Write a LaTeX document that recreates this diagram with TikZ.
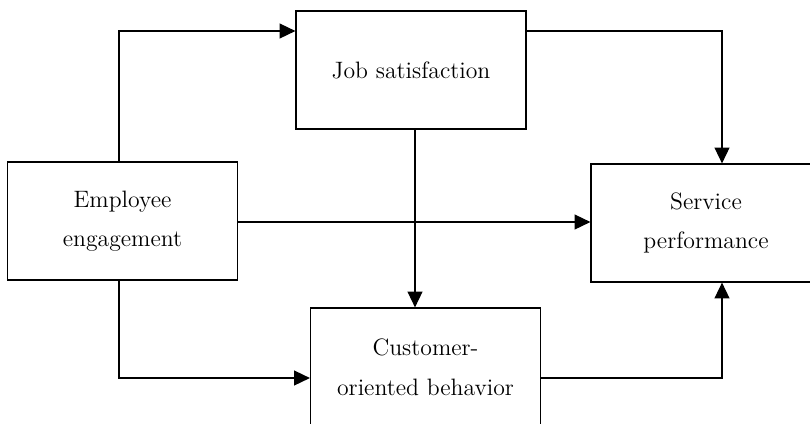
\documentclass[tikz,border=0pt]{standalone}
\usetikzlibrary{arrows.meta}

\begin{document}
\begin{tikzpicture}
[x=0.02cm, y=-0.02cm,
box/.style={rectangle, draw=black, thin, line width=0.7pt, minimum width=4.6cm, minimum height=2.36cm, inner sep=0pt, align=center, font=\fontsize{13.5}{22.5}\selectfont},
classical/.style={line width=0.7pt, -{Triangle[length=9pt, width=8.5pt]}, shorten >=0pt, shorten <=0pt}]
\useasboundingbox (0,0) rectangle (810,423);
\clip (0,0) rectangle (810,423);

% boxes
\node[box] (job) at (411,70) {Job satisfaction};
\node[box] (emp) at (122.5,221) {Employee\\engagement};
\node[box] (serv) at (706,223) {Service\\performance};
\node[box] (cust) at (425.5,367) {Customer-\\oriented behavior};

% bends
\coordinate (b1) at (119,31);
\coordinate (b2) at (722,31);
\coordinate (b3) at (119,378);
\coordinate (b4) at (722,378);

\draw[classical] (emp.north -| b1) -- (b1) -- (job.west |- b1);
\draw[classical] (job.east |- b2) -- (b2) -- (serv.north -| b2);
\draw[classical] (job.south -| 415,0) -- (cust.north -| 415,0);
\draw[classical] (emp.east |- 0,222) -- (serv.west |- 0,222);
\draw[classical] (emp.south -| b3) -- (b3) -- (cust.west |- b3);
\draw[classical] (cust.east |- b4) -- (b4) -- (serv.south -| b4);

\end{tikzpicture}
\end{document}
